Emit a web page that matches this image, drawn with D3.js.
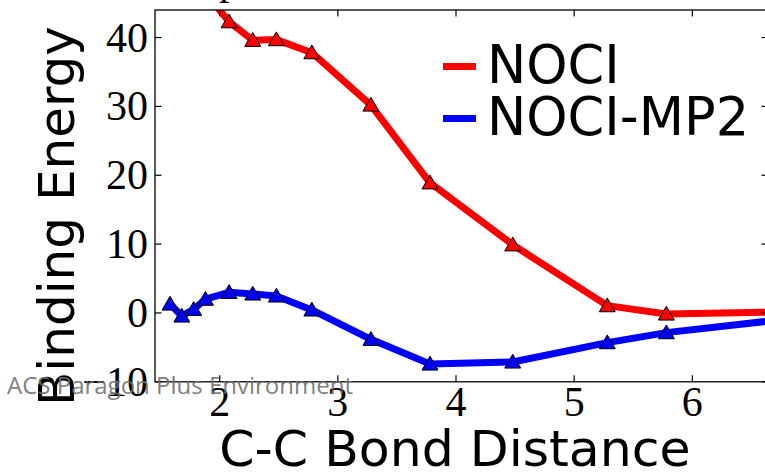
<!DOCTYPE html>
<html>
<head>
<meta charset="utf-8">
<script src="https://cdn.jsdelivr.net/npm/d3@7/dist/d3.min.js"></script>
<style>
  html, body { margin: 0; padding: 0; background: #fff; }
  svg { display: block; }
</style>
</head>
<body>
<svg id="chart" width="765" height="472"></svg>
<script>
// ---- data ----
const bondDistance = [1.58, 1.68, 1.78, 1.88, 2.08, 2.28, 2.48, 2.78, 3.28, 3.78, 4.48, 5.28, 5.78, 7.0];
const nociValues   = [null, null, null, 46.5, 42.3, 39.6, 39.7, 37.8, 30.2, 18.9, 9.9, 1.06, -0.15, 0.2];
const mp2Values    = [1.3, -0.44, 0.53, 2.0, 3.0, 2.76, 2.47, 0.44, -3.83, -7.41, -7.12, -4.31, -2.86, -0.5];
const xTicks = [2, 3, 4, 5, 6];
const yTicks = [-10, 0, 10, 20, 30, 40];
const seriesNames = ["NOCI", "NOCI-MP2"];
const seriesColors = ["#ff0000", "#0000ff"];
const xLabel = "C-C Bond Distance";
const yLabel = "Binding Energy";
const watermark = "ACS Paragon Plus Environment";
const clippedTitle = "p";

// ---- layout ----
const svg = d3.select("#chart");
const L = 155, R = 768, T = 10, B = 381.8;
const x = d3.scaleLinear().domain([1.453, 6.64]).range([L, R]);
const y = d3.scaleLinear().domain([-10, 44]).range([B, T]);

svg.append("defs").append("clipPath").attr("id", "plotclip")
  .append("rect").attr("x", L).attr("y", T).attr("width", R - L).attr("height", B - T);

// clipped title fragment above the axes
svg.append("text").attr("x", 219).attr("y", -6)
  .attr("font-family", "Liberation Serif").attr("font-size", 42).attr("fill", "#000")
  .text(clippedTitle);

// ---- series ----
const series = [nociValues, mp2Values].map((vals, i) => ({
  name: seriesNames[i], color: seriesColors[i],
  pts: bondDistance.map((d, j) => ({ x: d, y: vals[j] })).filter(p => p.y !== null)
}));

const plot = svg.append("g").attr("clip-path", "url(#plotclip)");
const line = d3.line().x(d => x(d.x)).y(d => y(d.y));
const tri = d3.symbol().type(d3.symbolTriangle).size(110);

series.forEach(s => {
  plot.append("path").datum(s.pts).attr("d", line)
    .attr("fill", "none").attr("stroke", s.color).attr("stroke-width", 7)
    .attr("stroke-linejoin", "round").attr("stroke-linecap", "butt");
});
series.forEach(s => {
  plot.selectAll(null).data(s.pts).enter().append("path")
    .attr("d", tri)
    .attr("transform", d => `translate(${x(d.x)},${y(d.y) + 1.5})`)
    .attr("fill", s.color).attr("stroke", "#000").attr("stroke-width", 1);
});

// ---- axes frame and ticks ----
const frame = svg.append("g");
frame.append("rect").attr("x", L).attr("y", T).attr("width", R - L).attr("height", B - T)
  .attr("fill", "none").attr("stroke", "#000").attr("stroke-width", 1.3);

const tickLen = 6.5;
xTicks.forEach(t => {
  frame.append("line").attr("x1", x(t)).attr("x2", x(t)).attr("y1", B).attr("y2", B - tickLen)
    .attr("stroke", "#000").attr("stroke-width", 1.2);
  frame.append("line").attr("x1", x(t)).attr("x2", x(t)).attr("y1", T).attr("y2", T + tickLen)
    .attr("stroke", "#000").attr("stroke-width", 1.2);
  frame.append("text").attr("x", x(t)).attr("y", 416)
    .attr("text-anchor", "middle").attr("font-family", "Liberation Serif")
    .attr("font-size", 42).attr("fill", "#000").text(t);
});
yTicks.forEach(t => {
  frame.append("line").attr("x1", L).attr("x2", L + tickLen).attr("y1", y(t)).attr("y2", y(t))
    .attr("stroke", "#000").attr("stroke-width", 1.2);
  frame.append("line").attr("x1", R).attr("x2", R - tickLen).attr("y1", y(t)).attr("y2", y(t))
    .attr("stroke", "#000").attr("stroke-width", 1.2);
  frame.append("text").attr("x", 148).attr("y", y(t) + 14)
    .attr("text-anchor", "end").attr("font-family", "Liberation Serif")
    .attr("font-size", 42).attr("fill", "#000").text(t < 0 ? "\u2212" + Math.abs(t) : t);
});

// ---- axis labels ----
svg.append("text").attr("x", 455).attr("y", 466)
  .attr("text-anchor", "middle").attr("font-family", "DejaVu Sans")
  .attr("font-size", 50.5).attr("fill", "#000").text(xLabel);
svg.append("text").attr("transform", "translate(74,216) rotate(-90)")
  .attr("text-anchor", "middle").attr("font-family", "DejaVu Sans")
  .attr("font-size", 50).attr("fill", "#000").text(yLabel);

// ---- legend ----
const leg = svg.append("g");
series.forEach((s, i) => {
  const ly = 66.5 + i * 52;
  leg.append("line").attr("x1", 443).attr("x2", 476).attr("y1", ly).attr("y2", ly)
    .attr("stroke", s.color).attr("stroke-width", 7);
  leg.append("text").attr("x", 487).attr("y", 83 + i * 52)
    .attr("font-family", "DejaVu Sans").attr("font-size", 52.5).attr("fill", "#000").text(s.name);
});

// ---- watermark ----
svg.append("text").attr("x", 7).attr("y", 394)
  .attr("font-family", "Open Sans").attr("font-size", 24)
  .attr("fill", "#6e6e6e").attr("fill-opacity", 0.9).text(watermark);
</script>
</body>
</html>
